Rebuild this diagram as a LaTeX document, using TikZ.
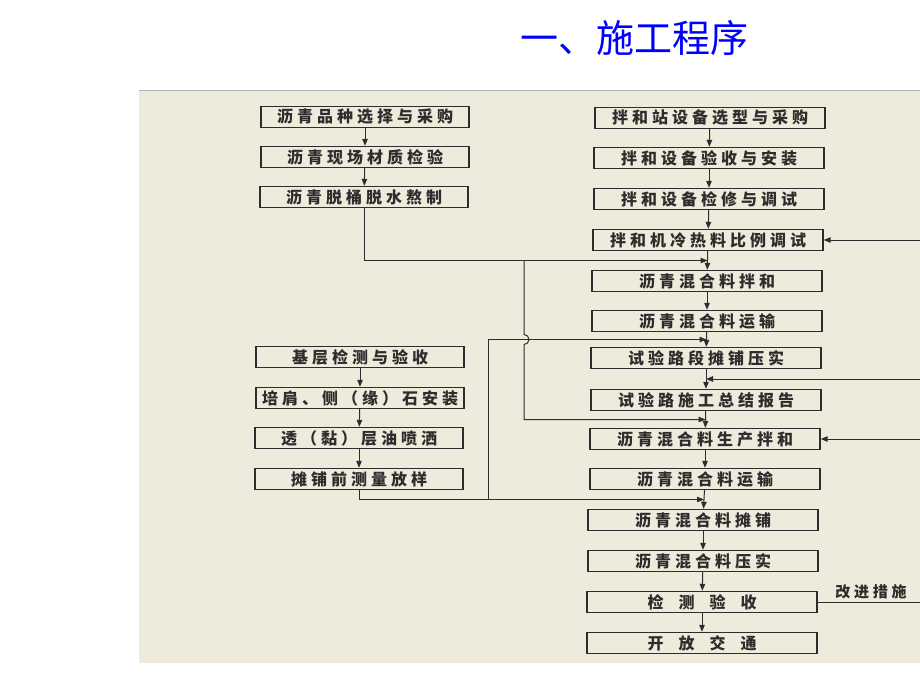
\documentclass[tikz,border=0pt]{standalone}
\usepackage{fontspec}
\usepackage{tikz}
\usetikzlibrary{arrows}
\usetikzlibrary{arrows.meta}
\usetikzlibrary{calc}
\newfontfamily\cjk[LetterSpace=25]{Noto Sans CJK SC}
\newfontfamily\cjktitle{Noto Sans CJK SC}
\definecolor{paper}{RGB}{238,234,220}
\definecolor{ink}{RGB}{45,45,45}
\definecolor{titleblue}{RGB}{0,0,255}

\begin{document}
\begin{tikzpicture}[x=1pt,y=-1pt]
\tikzset{stage/.style={draw=ink, line width=1.4pt, text=ink, font=\cjk\bfseries\fontsize{16pt}{16pt}\selectfont, minimum height=21pt, inner sep=0pt}}
\tikzset{left stage/.style={stage, minimum width=208pt}}
\tikzset{right stage/.style={stage, minimum width=230pt}}
\tikzstyle{wire} = [draw=ink, line width=1pt]
\tikzstyle{pointer} = [wire, -{Triangle[length=7pt,width=5.5pt]}]

\useasboundingbox (0,0) rectangle (920,690);
\fill[paper] (139,91) rectangle (920,663);
\draw[gray!60, line width=1pt] (139,91) -- (920,91);

\node[text=titleblue, font=\cjktitle\fontsize{38pt}{38pt}\selectfont, inner sep=0pt] (title) at (634,38) {一、施工程序};

% asphalt side
\node[left stage] (l1) at (365,117) {沥青品种选择与采购};
\node[left stage] (l2) at (365,157) {沥青现场材质检验};
\node[left stage] (l3) at (364,197) {沥青脱桶脱水熬制};
% base side
\node[left stage] (l4) at (360,357) {基层检测与验收};
\node[left stage] (l5) at (360,398) {培肩、侧（缘）石安装};
\node[left stage] (l6) at (359,438) {透（黏）层油喷洒};
\node[left stage] (l7) at (359,479) {摊铺前测量放样};

% plant side
\node[right stage] (r1) at (710,118) {拌和站设备选型与采购};
\node[right stage] (r2) at (709,158) {拌和设备验收与安装};
\node[right stage] (r3) at (709,199) {拌和设备检修与调试};
\node[right stage] (r4) at (708,240) {拌和机冷热料比例调试};
\node[right stage] (r5) at (707,281) {沥青混合料拌和};
\node[right stage] (r6) at (707,321) {沥青混合料运输};
\node[right stage] (r7) at (706,358) {试验路段摊铺压实};
\node[right stage] (r8) at (706,400) {试验路施工总结报告};
\node[right stage] (r9) at (705,439) {沥青混合料生产拌和};
\node[right stage] (r10) at (705,479) {沥青混合料运输};
\node[right stage] (r11) at (703,520) {沥青混合料摊铺};
\node[right stage] (r12) at (703,561) {沥青混合料压实};
\node[right stage] (r13) at (702,602) {检\kern15pt 测\kern15pt 验\kern15pt 收};
\node[right stage] (r14) at (702,643) {开\kern15pt 放\kern15pt 交\kern15pt 通};
\node[text=ink, font=\cjk\bfseries\fontsize{15pt}{15pt}\selectfont, inner sep=0pt] (fix) at (871,592) {改进措施};

\draw [pointer] (l1) -- (l2);
\draw [pointer] (l2) -- (l3);
\draw [pointer] (l4) -- (l5);
\draw [pointer] (l5) -- (l6);
\draw [pointer] (l6) -- (l7);
\foreach \a/\b in {1/2,2/3,3/4,4/5,5/6,6/7,7/8,8/9,9/10,10/11,11/12,12/13,13/14}
  \draw [pointer] (r\a) -- (r\b);

\coordinate (m45) at ($(r4.south)!0.5!(r5.north)$);
\coordinate (m67) at ($(r6.south)!0.5!(r7.north)$);
\coordinate (m78) at ($(r7.south)!0.5!(r8.north)$);
\coordinate (m89) at ($(r8.south)!0.5!(r9.north)$);
\coordinate (m1011) at ($(r10.south)!0.5!(r11.north)$);
\coordinate (ka) at (524,0);
\coordinate (kb) at (488,0);
\coordinate (edge) at (920,0);

% asphalt to mixing
\draw [pointer] (l3.south) |- (m45);
\draw [pointer] (m45 -| ka) -- ($(m67 -| ka)+(0,-5)$) arc[start angle=-90, end angle=90, radius=5] -- (m89 -| ka) -- (m89);
% base to paving
\draw [pointer] (l7.south) |- (m1011);
\draw [pointer] (m1011 -| kb) -- (m67 -| kb) -- (m67);
% feedback
\draw [wire] (r13.east) -- (r13.east -| edge);
\draw [pointer] (r4.east -| edge) -- (r4.east);
\draw [pointer] (m78 -| edge) -- (m78);
\draw [pointer] (r9.east -| edge) -- (r9.east);
\end{tikzpicture}
\end{document}
